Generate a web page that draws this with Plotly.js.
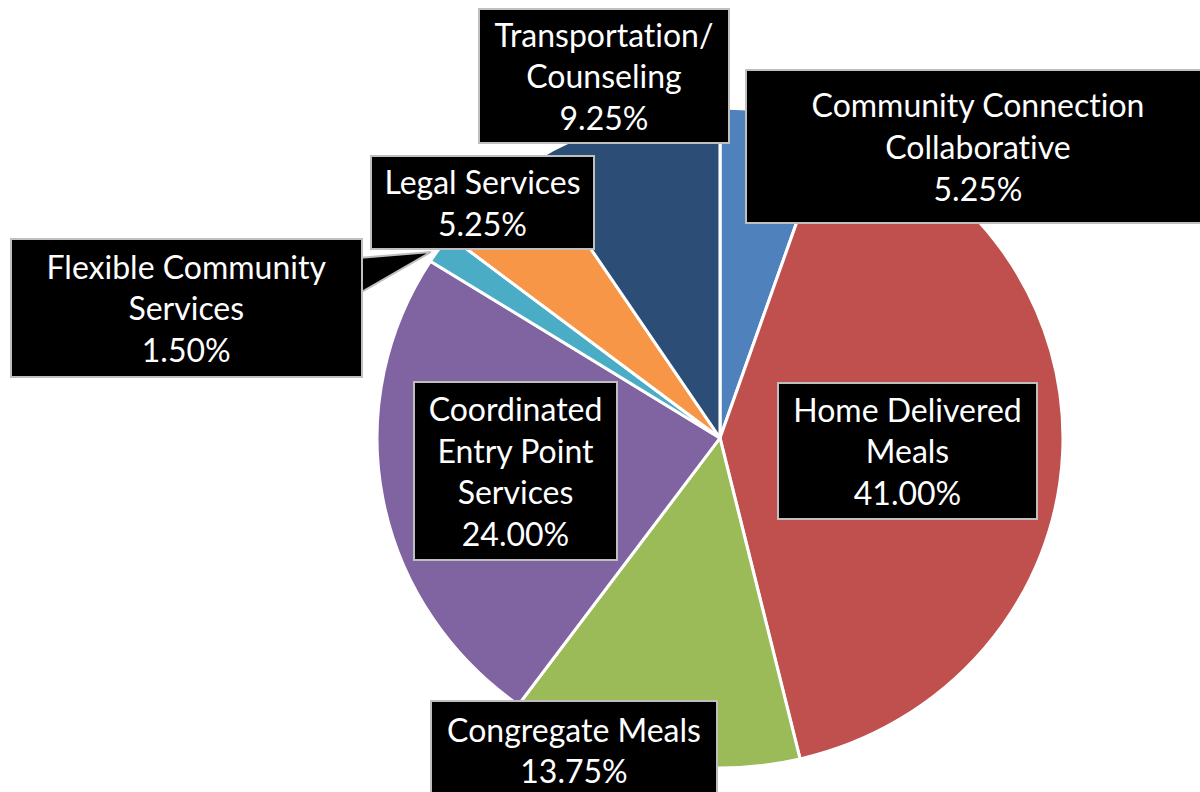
<!DOCTYPE html>
<html>
<head>
<meta charset="utf-8">
<script src="https://cdn.plot.ly/plotly-3.0.1.min.js"></script>
<style>
html,body{margin:0;padding:0;background:#fff;}
#chart{width:1200px;height:792px;}
#chart text{font-variant-ligatures:none;font-feature-settings:"liga" 0;}
</style>
</head>
<body>
<div id="chart"></div>
<script>
const categories = ['Community Connection Collaborative', 'Home Delivered Meals', 'Congregate Meals', 'Coordinated Entry Point Services', 'Flexible Community Services', 'Legal Services', 'Transportation/ Counseling'];
const shares = [5.25, 41.00, 13.75, 24.00, 1.50, 5.25, 9.25];
const labelLines = ['Community Connection<br>Collaborative', 'Home Delivered<br>Meals', 'Congregate Meals', 'Coordinated<br>Entry Point<br>Services', 'Flexible Community<br>Services', 'Legal Services', 'Transportation/<br>Counseling'];
const sliceColors = ['#4F81BD', '#C0504D', '#9BBB59', '#8064A2', '#4BACC6', '#F79646', '#2C4D75'];

// label box placement in pixels: [centerX, centerY, width, height]
const boxes = [
  [978, 146, 466, 155],
  [907.5, 451, 261, 138],
  [573.5, 750, 288, 100],
  [515, 471, 205, 180],
  [186.5, 308, 353, 140],
  [482.5, 202.5, 225, 95],
  [604, 76, 252, 136]
];

const W = 1200, H = 792;
const cx = 720, cy = 438, r = 336;
const rx = 343, ry = 330;

const annotations = categories.map((c, i) => {
  const b = boxes[i];
  return {
    xref: 'paper', yref: 'paper',
    x: b[0] / W, y: 1 - b[1] / H,
    xanchor: 'center', yanchor: 'middle',
    showarrow: false,
    text: labelLines[i] + '<br>' + shares[i].toFixed(2) + '%',
    font: {family: 'Lato, "Open Sans", sans-serif', size: 32, color: '#FFFFFF'},
    bgcolor: '#000000',
    bordercolor: '#BFBFBF',
    borderwidth: 2,
    borderpad: 0,
    width: b[2] - 4,
    height: b[3] - 4,
    align: 'center', valign: 'middle'
  };
});

function px(x, y) { return (x / W) + ' ' + (1 - y / H); }
const pointer = {
  type: 'path', xref: 'paper', yref: 'paper',
  path: 'M ' + px(358, 258) + ' L ' + px(431, 252) + ' L ' + px(358, 294) + ' Z',
  fillcolor: '#000000',
  line: {color: '#BFBFBF', width: 2}
};

const data = [{
  type: 'pie',
  labels: categories,
  values: shares,
  sort: false,
  direction: 'clockwise',
  rotation: 0,
  textinfo: 'none',
  hoverinfo: 'label+percent',
  marker: {colors: sliceColors, line: {color: '#FFFFFF', width: 3}},
  domain: {x: [(cx - r) / W, (cx + r) / W], y: [1 - (cy + r) / H, 1 - (cy - r) / H]},
  showlegend: false
}];

const layout = {
  width: W, height: H,
  margin: {l: 0, r: 0, t: 0, b: 0},
  paper_bgcolor: '#FFFFFF',
  showlegend: false,
  annotations: annotations,
  shapes: [pointer]
};

Plotly.newPlot('chart', data, layout, {displayModeBar: false, staticPlot: true}).then(function (gd) {
  // the source chart's pie is slightly stretched horizontally
  const layer = gd.querySelector('.pielayer');
  if (layer) {
    layer.setAttribute('transform',
      'translate(' + cx + ',' + cy + ') scale(' + (rx / r) + ',' + (ry / r) + ') translate(' + (-cx) + ',' + (-cy) + ')');
  }
});
</script>
</body>
</html>
